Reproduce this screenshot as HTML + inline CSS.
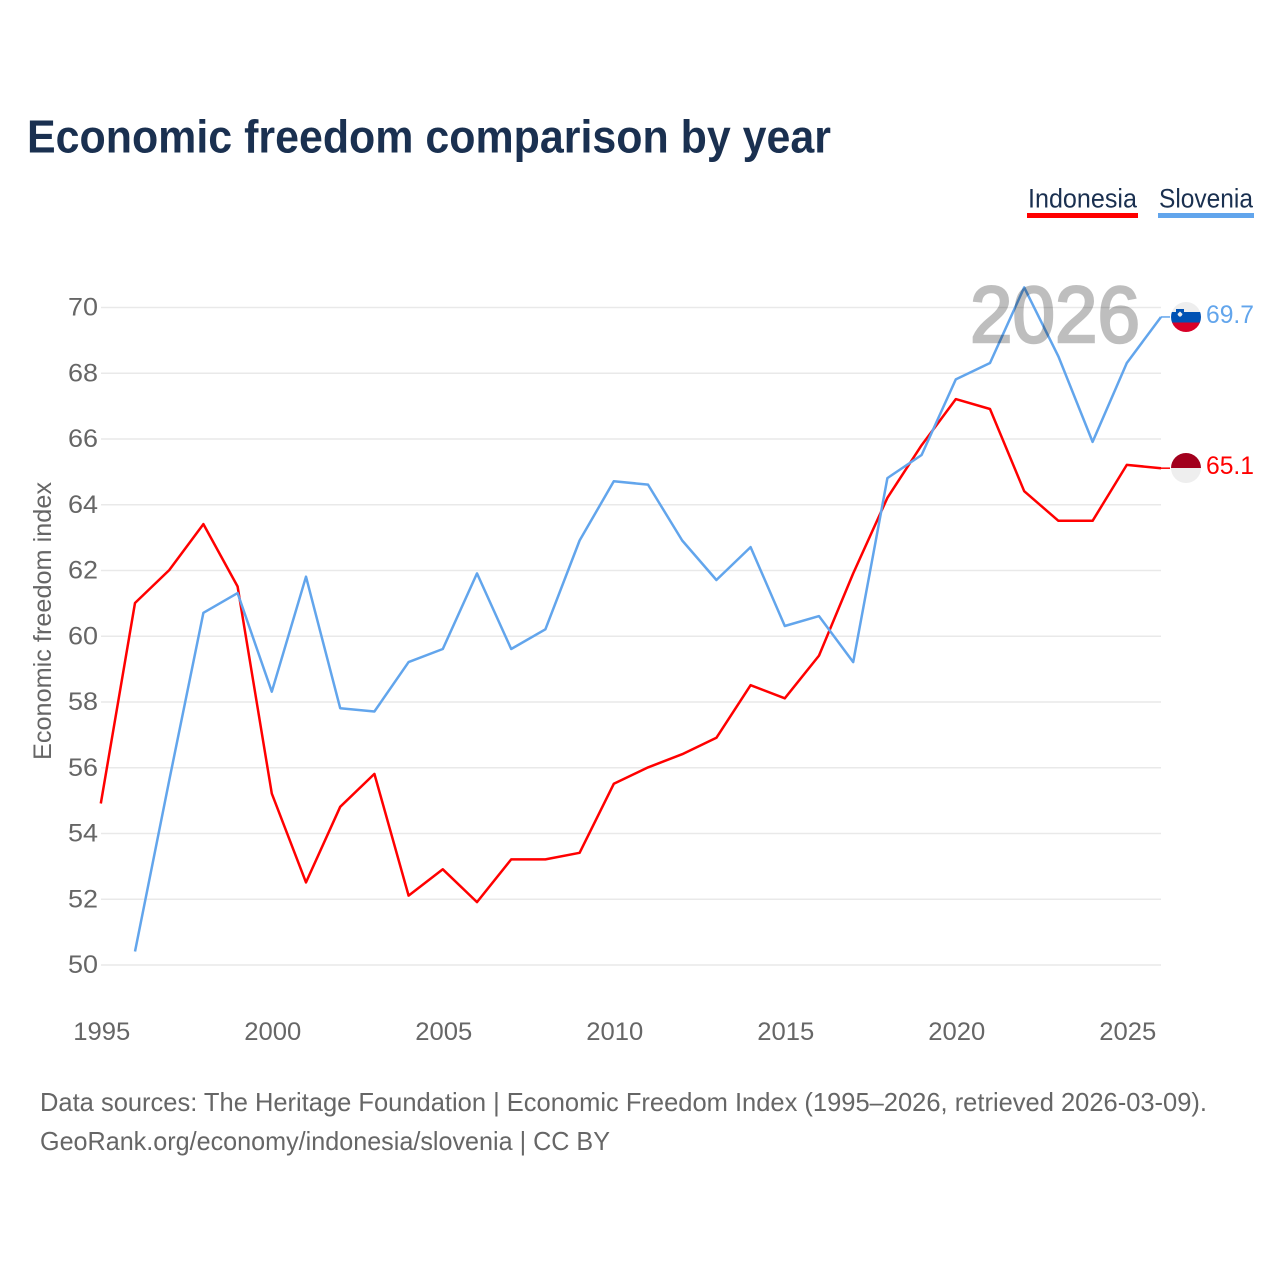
<!DOCTYPE html>
<html lang="en">
<head>
<meta charset="utf-8">
<title>Economic freedom comparison by year</title>
<style>
html,body{margin:0;padding:0;background:#fff;}
svg{display:block;font-family:"Liberation Sans",sans-serif;}
</style>
</head>
<body>
<svg id="chart" width="1280" height="1280" viewBox="0 0 1280 1280" xmlns="http://www.w3.org/2000/svg">
  <rect width="1280" height="1280" fill="#fff"/>
  <text x="27" y="152.500" font-size="46" font-weight="700" fill="#1a3050" textLength="804" lengthAdjust="spacingAndGlyphs">Economic freedom comparison by year</text>

  <text x="1028" y="207.500" font-size="27" fill="#1a3050" textLength="109" lengthAdjust="spacingAndGlyphs">Indonesia</text>
  <rect x="1027" y="213" width="111" height="5" fill="#ff0000"/>
  <text x="1159" y="207.500" font-size="27" fill="#1a3050" textLength="94" lengthAdjust="spacingAndGlyphs">Slovenia</text>
  <rect x="1158" y="213" width="96" height="5" fill="#62a5ec"/>

  <g id="grid"></g>
  <g id="y-ticks"></g>
  <g id="x-ticks"></g>
  <text transform="translate(51,621) rotate(-90)" text-anchor="middle" font-size="25" fill="#666" textLength="278" lengthAdjust="spacingAndGlyphs">Economic freedom index</text>

  <g id="series" transform="translate(0,-0.4)"></g>
  <text x="970" y="342" font-size="80" font-weight="400" fill="#000" stroke="#000" stroke-width="2.500" opacity="0.25" textLength="170" lengthAdjust="spacingAndGlyphs">2026</text>

  <defs>
    <clipPath id="clip-si"><circle cx="1186" cy="317" r="15"/></clipPath>
    <clipPath id="clip-id"><circle cx="1186" cy="468" r="15"/></clipPath>
  </defs>
  <g clip-path="url(#clip-si)">
    <rect x="1171" y="302" width="30" height="10" fill="#eeeeee"/>
    <rect x="1171" y="312" width="30" height="10.5" fill="#0052b4"/>
    <rect x="1171" y="322.5" width="30" height="10" fill="#d80027"/>
    <path d="M1176 309h8v5q0 3-4 4q-4-1-4-4z" fill="#0052b4"/>
    <path d="M1177.500 314l2.500-2.500l2.500 2.500q-.5 2-2.500 2.800q-2-.8-2.500-2.800z" fill="#eeeeee"/>
  </g>
  <g clip-path="url(#clip-id)">
    <rect x="1171" y="453" width="30" height="15" fill="#a2001d"/>
    <rect x="1171" y="468" width="30" height="15" fill="#eeeeee"/>
  </g>
  <text id="value-si" x="1206" y="323" font-size="25" fill="#62a5ec" textLength="48" lengthAdjust="spacingAndGlyphs"></text>
  <text id="value-id" x="1206" y="474" font-size="25" fill="#ff0000" textLength="48" lengthAdjust="spacingAndGlyphs"></text>

  <text x="40" y="1111" font-size="26" fill="#666" textLength="1167" lengthAdjust="spacingAndGlyphs">Data sources: The Heritage Foundation | Economic Freedom Index (1995–2026, retrieved 2026-03-09).</text>
  <text x="40" y="1150" font-size="26" fill="#666" textLength="570" lengthAdjust="spacingAndGlyphs">GeoRank.org/economy/indonesia/slovenia | CC BY</text>
</svg>
<script>
const years = [1995,1996,1997,1998,1999,2000,2001,2002,2003,2004,2005,2006,2007,2008,2009,2010,2011,2012,2013,2014,2015,2016,2017,2018,2019,2020,2021,2022,2023,2024,2025,2026];
const indonesia = [54.9,61.0,62.0,63.4,61.5,55.2,52.5,54.8,55.8,52.1,52.9,51.9,53.2,53.2,53.4,55.5,56.0,56.4,56.9,58.5,58.1,59.4,61.9,64.2,65.8,67.2,66.9,64.4,63.5,63.5,65.2,65.1];
const slovenia = [null,50.4,55.6,60.7,61.3,58.3,61.8,57.8,57.7,59.2,59.6,61.9,59.6,60.2,62.9,64.7,64.6,62.9,61.7,62.7,60.3,60.6,59.2,64.8,65.5,67.8,68.3,70.6,68.5,65.9,68.3,69.7];
const yTickValues = [50,52,54,56,58,60,62,64,66,68,70];
const xTickValues = [1995,2000,2005,2010,2015,2020,2025];

const NS = 'http://www.w3.org/2000/svg';
const xScale = v => 100.8 + (v - 1995) * (1161 - 100.8) / 31;
const yScale = v => 965 - (v - 50) * (965 - 307.5) / 20;

function make(tag, attrs, parent) {
  const el = document.createElementNS(NS, tag);
  for (const k in attrs) el.setAttribute(k, attrs[k]);
  parent.appendChild(el);
  return el;
}

const grid = document.getElementById('grid');
const yTicks = document.getElementById('y-ticks');
yTickValues.forEach(v => {
  const line = make('line', {x1: 101, x2: 1161, y1: yScale(v), y2: yScale(v), stroke: '#e9e9e9', 'stroke-width': 1.5}, grid);
  
  
  const t = make('text', {x: 68, y: yScale(v) + 8, 'font-size': 25, fill: '#666', textLength: 30, lengthAdjust: 'spacingAndGlyphs'}, yTicks);
  
  
  t.textContent = v;
});

const xTicks = document.getElementById('x-ticks');
xTickValues.forEach(v => {
  const t = make('text', {x: xScale(v) + 1 - 28.5, y: 1040, 'font-size': 25, fill: '#666', textLength: 57, lengthAdjust: 'spacingAndGlyphs'}, xTicks);
  
  
  t.textContent = v;
});

function linePath(values) {
  let d = '';
  values.forEach((v, i) => {
    if (v === null) return;
    d += (d ? 'L' : 'M') + xScale(years[i]).toFixed(1) + ' ' + yScale(v).toFixed(1);
  });
  return d;
}

const series = document.getElementById('series');
const redLine = make('path', {d: linePath(indonesia), fill: 'none', stroke: '#ff0000', 'stroke-width': 2.5, 'stroke-linejoin': 'round'}, series);


const blueLine = make('path', {d: linePath(slovenia), fill: 'none', stroke: '#62a5ec', 'stroke-width': 2.5, 'stroke-linejoin': 'round'}, series);



const lastIdx = years.length - 1;
const redLeader = make('line', {x1: xScale(years[lastIdx]), x2: 1170, y1: yScale(indonesia[lastIdx]), y2: yScale(indonesia[lastIdx]), stroke: '#ff0000', 'stroke-width': 1.5}, series);


const blueLeader = make('line', {x1: xScale(years[lastIdx]), x2: 1170, y1: yScale(slovenia[lastIdx]), y2: yScale(slovenia[lastIdx]), stroke: '#62a5ec', 'stroke-width': 1.5}, series);



document.getElementById('value-si').textContent = slovenia[lastIdx].toFixed(1);
document.getElementById('value-id').textContent = indonesia[lastIdx].toFixed(1);
</script>
</body>
</html>
